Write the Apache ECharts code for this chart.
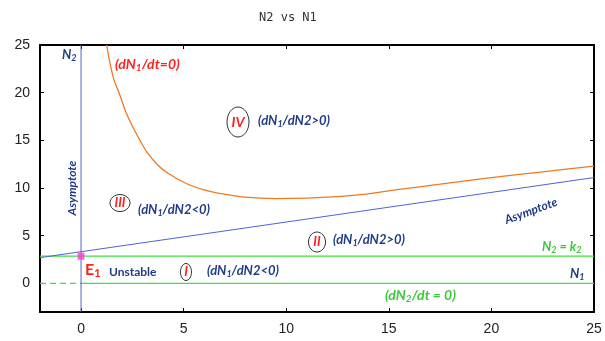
<!DOCTYPE html>
<html>
<head>
<meta charset="UTF-8">
<title>N2 vs N1</title>
<script src="https://cdn.jsdelivr.net/npm/echarts@6/dist/echarts.min.js"></script>
<style>
  body { margin: 0; background: #fff; }
  #chart { width: 605px; height: 341px; }
</style>
</head>
<body>
<div id="chart"></div>
<script>
// axis ticks
const xTicks = [0, 5, 10, 15, 20, 25];
const yTicks = [0, 5, 10, 15, 20, 25];

// dN1/dt = 0 nullcline (orange)
const nullclineN1 = [
  [1.25, 25], [1.4, 23.2], [1.6, 21.4], [1.9, 19.7], [2.2, 17.9], [2.55, 16.3],
  [2.9, 14.9], [3.2, 13.8], [3.7, 12.5], [4.2, 11.6], [5.15, 10.45], [6, 9.8],
  [6.6, 9.5], [8, 9.05], [9.5, 8.9], [11, 8.95], [12.5, 9.1], [13.6, 9.3],
  [15.5, 9.85], [17.5, 10.4], [20, 11.1], [22.5, 11.7], [25, 12.3]
];
// asymptotes (blue)
const asymptoteVertical = [[0, -3], [0, 25]];
const asymptoteSlope = [[-2, 2.7], [25, 11.1]];
// dN2/dt = 0 (green)
const k2Line = [[-2, 2.85], [25, 2.85]];
const n1AxisDashed = [[-2, 0], [0, 0]];
const n1AxisSolid = [[0, 0], [25, 0]];
// equilibrium E1
const equilibrium = [[0, 2.85]];

const chart = echarts.init(document.getElementById('chart'));

const BLUE = '#1f3c88';
const RED = '#ff1f1f';
const GREEN = '#3cc83c';
const FONT = 'Lato, "Open Sans", sans-serif';

// text with optional subscripts: parts = [[text, isSub], ...]
function label(x, y, parts, color, size, opts) {
  opts = opts || {};
  const text = parts.map(p => (p[1] ? '{s|' : '{m|') + p[0] + '}').join('');
  const style = opts.upright ? 'normal' : 'italic';
  return {
    type: 'text',
    x: x, y: y,
    rotation: opts.rotation || 0,
    z: 10,
    style: {
      text: text,
      fill: color,
      textAlign: opts.align || 'left',
      textVerticalAlign: 'middle',
      rich: {
        m: { fontSize: size, fontWeight: 'bold', fontStyle: style, fontFamily: FONT, fill: color },
        s: { fontSize: Math.round(size * 0.7), fontWeight: 'bold', fontStyle: style, fontFamily: FONT, fill: color, padding: [7, 0, 0, 0] }
      }
    }
  };
}

function ring(cx, cy, rx, ry) {
  return {
    type: 'ellipse',
    z: 9,
    shape: { cx: cx, cy: cy, rx: rx, ry: ry },
    style: { fill: '#fff', stroke: '#333', lineWidth: 1 }
  };
}

const tickStyle = { show: true, inside: true, length: 4, lineStyle: { color: '#000', width: 1 } };
const frameLine = { show: true, onZero: false, lineStyle: { color: '#000', width: 2 } };

chart.setOption({
  animation: false,
  backgroundColor: '#fff',
  title: {
    text: 'N2 vs N1',
    left: 254, top: 7,
    textStyle: { fontFamily: '"DejaVu Sans Mono", monospace', fontSize: 12, fontWeight: 'normal', color: '#333' }
  },
  grid: { left: 40, right: 11, top: 45, bottom: 29 },
  xAxis: [{
    type: 'value', min: -2, max: 25,
    axisLine: frameLine,
    axisTick: Object.assign({ customValues: xTicks }, tickStyle),
    axisLabel: { customValues: xTicks, color: '#222', fontSize: 14, fontFamily: 'Liberation Sans, Arial', margin: 10 },
    splitLine: { show: false }
  }, {
    type: 'value', min: -2, max: 25, position: 'top',
    axisLine: frameLine,
    axisTick: Object.assign({ customValues: xTicks }, tickStyle),
    axisLabel: { show: false },
    splitLine: { show: false }
  }],
  yAxis: [{
    type: 'value', min: -3, max: 25,
    axisLine: frameLine,
    axisTick: Object.assign({ customValues: yTicks }, tickStyle),
    axisLabel: { customValues: yTicks, color: '#222', fontSize: 14, fontFamily: 'Liberation Sans, Arial', margin: 10 },
    splitLine: { show: false }
  }, {
    type: 'value', min: -3, max: 25, position: 'right',
    axisLine: frameLine,
    axisTick: Object.assign({ customValues: yTicks }, tickStyle),
    axisLabel: { show: false },
    splitLine: { show: false }
  }],
  series: [
    { type: 'line', data: k2Line, symbol: 'none', lineStyle: { color: '#3ee23e', width: 1.3 } },
    { type: 'line', data: n1AxisSolid, symbol: 'none', lineStyle: { color: '#3ee23e', width: 1.3 } },
    { type: 'line', data: n1AxisDashed, symbol: 'none', lineStyle: { color: '#3ee23e', width: 1.3, type: [6, 4] } },
    { type: 'line', data: asymptoteVertical, symbol: 'none', lineStyle: { color: '#5060d8', width: 1 } },
    { type: 'line', data: asymptoteSlope, symbol: 'none', lineStyle: { color: '#5060d8', width: 1 } },
    { type: 'line', data: nullclineN1, symbol: 'none', smooth: 0.25, lineStyle: { color: '#f07820', width: 1.3 } },
    { type: 'scatter', data: equilibrium, symbol: 'rect', symbolSize: 7, itemStyle: { color: '#ff3ccf' }, z: 5 }
  ],
  graphic: [
    label(62, 55, [['N', 0], ['2', 1]], BLUE, 13),
    label(115, 64, [['(dN', 0], ['1', 1], ['/dt=0)', 0]], RED, 14),
    label(72, 188, [['Asymptote', 0]], BLUE, 12, { rotation: Math.PI / 2, align: 'center' }),
    ring(238, 122, 11, 15),
    label(238, 122, [['IV', 0]], RED, 14, { align: 'center' }),
    label(258, 121, [['(dN', 0], ['1', 1], ['/dN2>0)', 0]], BLUE, 13),
    ring(120, 203, 10, 8.5),
    label(120, 203, [['III', 0]], RED, 13, { align: 'center' }),
    label(138, 210, [['(dN', 0], ['1', 1], ['/dN2<0)', 0]], BLUE, 13),
    ring(317, 242, 8.5, 10),
    label(317, 242, [['II', 0]], RED, 13, { align: 'center' }),
    label(333, 240, [['(dN', 0], ['1', 1], ['/dN2>0)', 0]], BLUE, 13),
    ring(186, 272, 5.5, 8.5),
    label(186, 272, [['I', 0]], RED, 13, { align: 'center' }),
    label(207, 271, [['(dN', 0], ['1', 1], ['/dN2<0)', 0]], BLUE, 13),
    label(85, 270, [['E', 0], ['1', 1]], RED, 16, { upright: true }),
    label(109, 272, [['Unstable', 0]], BLUE, 12, { upright: true }),
    label(531, 211, [['Asymptote', 0]], BLUE, 12, { rotation: 0.35, align: 'center' }),
    label(542, 247, [['N', 0], ['2', 1], [' = k', 0], ['2', 1]], GREEN, 13),
    label(570, 274, [['N', 0], ['1', 1]], BLUE, 13),
    label(385, 295, [['(dN', 0], ['2', 1], ['/dt = 0)', 0]], GREEN, 14)
  ]
});
</script>
</body>
</html>
